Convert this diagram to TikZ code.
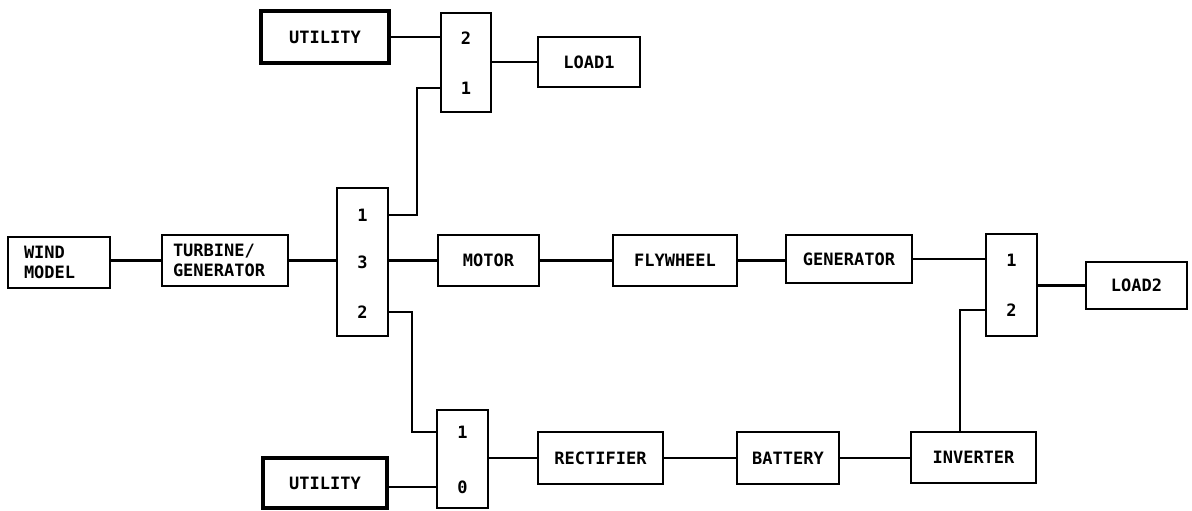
\documentclass[tikz,border=0pt]{standalone}
\usepackage{fontspec}
\setmonofont{DejaVu Sans Mono}

\begin{document}
\begin{tikzpicture}[x=1pt,y=-1pt,
  blk/.style={draw,line width=2.4pt,inner sep=0pt,
    font=\ttfamily\bfseries\fontsize{17}{20}\selectfont},
  util/.style={blk,line width=3.4pt},
  port/.style={inner sep=0pt,font=\ttfamily\bfseries\fontsize{17}{20}\selectfont},
  wire/.style={line width=2.2pt,line join=miter}]
  \useasboundingbox (0,0) rectangle (1192,511);
  %
  \node[blk,text width=70pt,inner xsep=16pt,align=left,minimum height=51pt] (wind) at (59,262.5) {WIND\\MODEL};
  \node[blk,text width=104pt,inner xsep=11pt,align=left,minimum height=51pt] (turb) at (225,260.5) {TURBINE/\\GENERATOR};
  %
  \node[blk,minimum width=51pt,minimum height=148pt] (swA) at (362.5,262) {};
  \node[port] (a1) at (362.5,215) {1};
  \node[port] (a3) at (362.5,262) {3};
  \node[port] (a2) at (362.5,312) {2};
  %
  \node[blk,minimum width=101pt,minimum height=51pt] (motor) at (488.5,260.5) {MOTOR};
  \node[blk,minimum width=124pt,minimum height=51pt] (flywheel) at (675,260.5) {FLYWHEEL};
  \node[blk,minimum width=126pt,minimum height=48pt] (gen) at (849,259) {GENERATOR};
  %
  \node[blk,minimum width=51pt,minimum height=102pt] (swD) at (1011.5,285) {};
  \node[port] (d1) at (1011.5,260) {1};
  \node[port] (d2) at (1011.5,310) {2};
  \node[blk,minimum width=101pt,minimum height=47pt] (load2) at (1136.5,285.5) {LOAD2};
  %
  \node[util,minimum width=128pt,minimum height=52pt] (utilA) at (325,37) {UTILITY};
  \node[blk,minimum width=50pt,minimum height=99pt] (swB) at (466,62.5) {};
  \node[port] (b2) at (466,38) {2};
  \node[port] (b1) at (466,88) {1};
  \node[blk,minimum width=102pt,minimum height=50pt] (load1) at (589,62) {LOAD1};
  %
  \node[util,minimum width=124pt,minimum height=50pt] (utilB) at (325,483) {UTILITY};
  \node[blk,minimum width=51pt,minimum height=98pt] (swC) at (462.5,459) {};
  \node[port] (c1) at (462.5,432) {1};
  \node[port] (c0) at (462.5,487) {0};
  %
  \node[blk,minimum width=125pt,minimum height=52pt] (rect) at (600.5,458) {RECTIFIER};
  \node[blk,minimum width=102pt,minimum height=52pt] (batt) at (788,458) {BATTERY};
  \node[blk,minimum width=125pt,minimum height=51pt] (inv) at (973.5,457.5) {INVERTER};
  %
  \coordinate (jA) at (417,88);
  \coordinate (jB) at (412,432);
  \coordinate (jC) at (960,310);
  %
  \draw[wire] (turb.west -| wind.east) -- (turb.west);
  \draw[wire] (turb.east) -- (turb.east -| swA.west);
  \draw[wire] (motor.west -| swA.east) -- (motor.west);
  \draw[wire] (motor.east) -- (flywheel.west);
  \draw[wire] (flywheel.east) -- (flywheel.east -| gen.west);
  \draw[wire] (gen.east) -- (gen.east -| swD.west);
  \draw[wire] (load2.west -| swD.east) -- (load2.west);
  %
  \draw[wire] (utilA.east) -- (utilA.east -| swB.west);
  \draw[wire] (load1.west -| swB.east) -- (load1.west);
  \draw[wire] (a1 -| swA.east) -| (jA) -- (b1 -| swB.west);
  \draw[wire] (a2 -| swA.east) -| (jB) -- (c1 -| swC.west);
  %
  \draw[wire] (c0 -| utilB.east) -- (c0 -| swC.west);
  \draw[wire] (rect.west -| swC.east) -- (rect.west);
  \draw[wire] (rect.east) -- (batt.west);
  \draw[wire] (batt.east) -- (batt.east -| inv.west);
  \draw[wire] (jC |- inv.north) -- (jC) -- (d2 -| swD.west);
  %
\end{tikzpicture}
\end{document}
